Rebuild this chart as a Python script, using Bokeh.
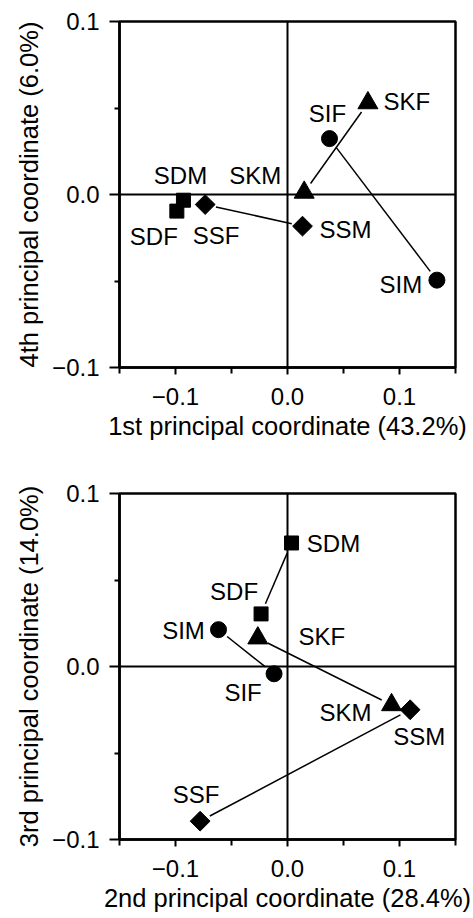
import math
from bokeh.plotting import figure
from bokeh.layouts import column
from bokeh.models import Range1d, FixedTicker, CustomJSTickFormatter, Span, ColumnDataSource
from bokeh.core.properties import value
from bokeh.embed import file_html
from bokeh.resources import INLINE

# ---------------- data ----------------
names = ["SDF", "SDM", "SSF", "SSM", "SKF", "SKM", "SIF", "SIM"]
groups = ["SD", "SD", "SS", "SS", "SK", "SK", "SI", "SI"]

# panel 1: 1st vs 4th principal coordinate
pc1 = [-0.0988, -0.0929, -0.0735, 0.0134, 0.0718, 0.0149, 0.0375, 0.1334]
pc4 = [-0.0096, -0.0033, -0.0058, -0.0183, 0.0529, 0.0012, 0.0323, -0.0495]

# panel 2: 2nd vs 3rd principal coordinate
pc2 = [-0.0236, 0.0036, -0.0780, 0.1095, -0.0265, 0.0929, -0.0120, -0.0616]
pc3 = [0.0304, 0.0714, -0.0894, -0.0250, 0.0164, -0.0222, -0.0042, 0.0213]

pairs = [("SDF", "SDM"), ("SSF", "SSM"), ("SKF", "SKM"), ("SIF", "SIM")]

x_ticks = [-0.1, 0.0, 0.1]
x_minor = [-0.15, -0.05, 0.05, 0.15]
y_ticks = [-0.1, 0.0, 0.1]
y_minor = [-0.05, 0.05]

titles1 = ("1st principal coordinate (43.2%)", "4th principal coordinate (6.0%)")
titles2 = ("2nd principal coordinate (28.4%)", "3rd principal coordinate (14.0%)")

# ---------------- styling (label offsets in screen px) ----------------
off1 = {"SDF": (-23, 25), "SDM": (-3, -25), "SSF": (11, 31), "SSM": (43, 3),
        "SKF": (39, -1), "SKM": (-49, -17), "SIF": (-2, -25), "SIM": (-36, 4)}
off2 = {"SDF": (-27, -22), "SDM": (42, 1), "SSF": (-4, -27), "SSM": (9, 27),
        "SKF": (64, -2), "SKM": (-46, 8), "SIF": (-31, 19), "SIM": (-35, 1)}

FONT = "Liberation Sans"
XR = (-0.15, 0.15)
YR = (-0.1, 0.1)
FW, FH = 336, 346
GAP = 11.0


def make_panel(xs, ys, offs, titles, height, top, bottom):
    p = figure(width=473, height=height, output_backend="svg", toolbar_location=None,
               x_range=Range1d(*XR), y_range=Range1d(*YR))
    p.min_border_left = 119
    p.min_border_right = 18
    p.min_border_top = top
    p.min_border_bottom = bottom
    p.xgrid.visible = False
    p.ygrid.visible = False
    p.outline_line_color = "black"
    p.outline_line_width = 2.5
    p.outline_line_alpha = 1.0
    p.background_fill_color = "white"
    p.border_fill_color = "white"

    fmt = CustomJSTickFormatter(code="return tick.toFixed(1).replace('-', '\u2212');")
    for ax, ticks, minor, tout, mout, lab in (
        (p.xaxis[0], x_ticks, x_minor, 7, 6, titles[0]),
        (p.yaxis[0], y_ticks, y_minor, 10, 5, titles[1]),
    ):
        ax.ticker = FixedTicker(ticks=ticks, minor_ticks=minor)
        ax.formatter = fmt
        ax.axis_line_width = 2.5
        ax.axis_line_color = "black"
        ax.major_tick_line_width = 2
        ax.minor_tick_line_width = 2
        ax.major_tick_line_color = "black"
        ax.minor_tick_line_color = "black"
        ax.major_tick_in = 0
        ax.minor_tick_in = 0
        ax.major_tick_out = tout
        ax.minor_tick_out = mout
        ax.major_label_text_font = FONT
        ax.major_label_text_font_size = "24px"
        ax.major_label_text_color = "black"
        ax.axis_label = lab
        ax.axis_label_text_font = FONT
        ax.axis_label_text_font_size = "25.5px"
        ax.axis_label_text_font_style = "normal"
        ax.axis_label_text_color = "black"
    p.xaxis.major_label_standoff = 13
    p.xaxis.axis_label_standoff = 4
    p.yaxis.major_label_standoff = 10
    p.yaxis.axis_label_standoff = 6

    p.add_layout(Span(location=0, dimension="height", line_color="black", line_width=2))
    p.add_layout(Span(location=0, dimension="width", line_color="black", line_width=2))

    # connectors, shortened by a small screen gap at each end
    sx = FW / (XR[1] - XR[0])
    sy = FH / (YR[1] - YR[0])
    x0s, y0s, x1s, y1s = [], [], [], []
    for a, b in pairs:
        i, j = names.index(a), names.index(b)
        dxp = (xs[j] - xs[i]) * sx
        dyp = (ys[j] - ys[i]) * sy
        L = math.hypot(dxp, dyp)
        ux, uy = dxp / L * GAP / sx, dyp / L * GAP / sy
        x0s.append(xs[i] + ux); y0s.append(ys[i] + uy)
        x1s.append(xs[j] - ux); y1s.append(ys[j] - uy)
    p.segment(x0=x0s, y0=y0s, x1=x1s, y1=y1s, line_color="black", line_width=1.5)

    marker_style = {
        "SD": dict(marker="square", size=14, angle=0.0),
        "SS": dict(marker="square", size=14, angle=math.pi / 4),
        "SK": dict(marker="triangle", size=20, angle=0.0),
        "SI": dict(marker="circle", size=16, angle=0.0),
    }
    for g, st in marker_style.items():
        idx = [k for k, gg in enumerate(groups) if gg == g]
        p.scatter(x=[xs[k] for k in idx], y=[ys[k] for k in idx],
                  marker=st["marker"], size=st["size"], angle=st["angle"],
                  fill_color="black", line_color="black", line_width=1)

    src = ColumnDataSource(dict(
        x=xs, y=ys, t=names,
        dx=[offs[n][0] for n in names], dy=[offs[n][1] for n in names]))
    p.text(x="x", y="y", text="t", x_offset="dx", y_offset="dy", source=src,
           text_font=value(FONT), text_font_size=value("24px"), text_color="black",
           text_align="center", text_baseline="middle")
    return p


p1 = make_panel(pc1, pc4, off1, titles1, 460, 21, 93)
p2 = make_panel(pc2, pc3, off2, titles2, 458, 33, 79)

layout = column(p1, p2, spacing=0)
open("out.html", "w").write(file_html(layout, INLINE))
